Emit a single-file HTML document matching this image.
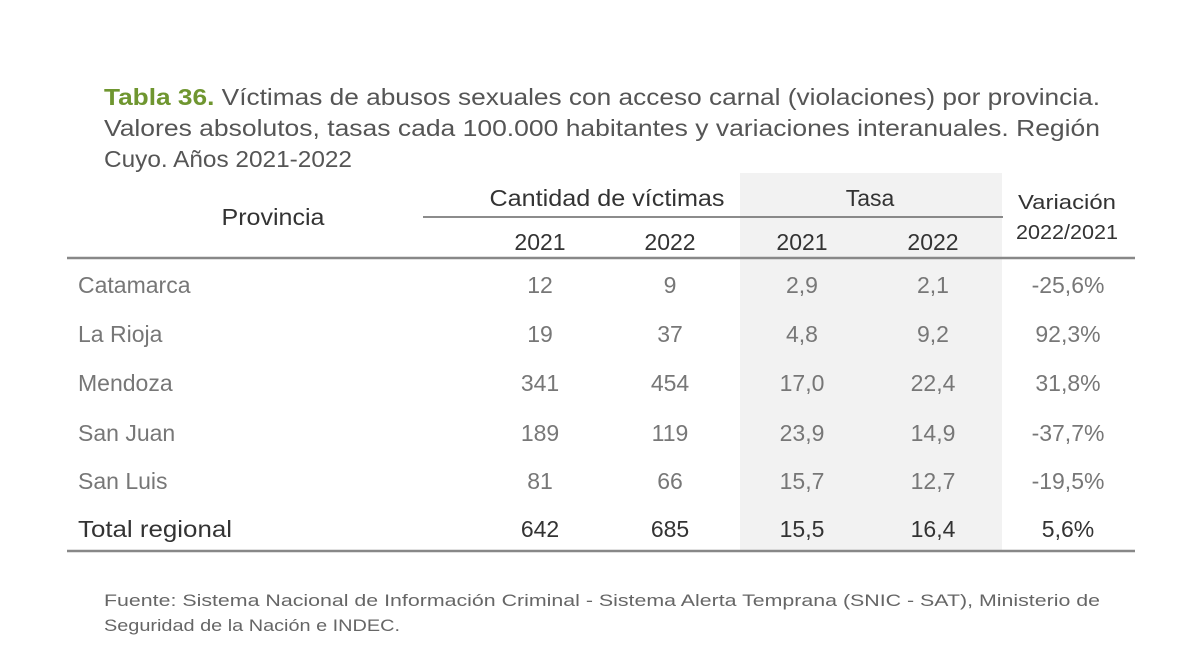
<!DOCTYPE html>
<html><head><meta charset="utf-8"><style>
html,body{margin:0;padding:0;background:#fff;}
svg{display:block;font-family:"Liberation Sans",sans-serif;}
</style></head><body>
<svg width="1200" height="653" viewBox="0 0 1200 653">
<rect x="740" y="173" width="262" height="378" fill="#f2f2f2"/>
<g font-size="23" fill="#555">
<text x="104" y="105" textLength="996" lengthAdjust="spacingAndGlyphs"><tspan fill="#6f9630" font-weight="bold">Tabla 36.</tspan> Víctimas de abusos sexuales con acceso carnal (violaciones) por provincia.</text>
<text x="104" y="136" textLength="996" lengthAdjust="spacingAndGlyphs">Valores absolutos, tasas cada 100.000 habitantes y variaciones interanuales. Región</text>
<text x="104" y="167" textLength="248" lengthAdjust="spacingAndGlyphs">Cuyo. Años 2021-2022</text>
</g>
<g font-size="23" fill="#333" text-anchor="middle">
<text x="273" y="225" textLength="103" lengthAdjust="spacingAndGlyphs">Provincia</text>
<text x="607" y="206" textLength="235" lengthAdjust="spacingAndGlyphs">Cantidad de víctimas</text>
<text x="870" y="206">Tasa</text>
<text x="1067" y="209" font-size="20" textLength="98" lengthAdjust="spacingAndGlyphs">Variación</text>
<text x="1067" y="239" font-size="20" textLength="102" lengthAdjust="spacingAndGlyphs">2022/2021</text>
<text x="540" y="250">2021</text><text x="670" y="250">2022</text>
<text x="802" y="250">2021</text><text x="933" y="250">2022</text>
</g>
<line x1="423" y1="217" x2="740" y2="217" stroke="#666" stroke-width="1.5"/>
<line x1="740" y1="217" x2="1003" y2="217" stroke="#666" stroke-width="1.5"/>
<line x1="67" y1="258" x2="1135" y2="258" stroke="#888" stroke-width="2.5"/>
<line x1="67" y1="551" x2="1135" y2="551" stroke="#888" stroke-width="2.5"/>
<g font-size="23" fill="#777">
<g text-anchor="start">
<text x="78" y="293">Catamarca</text>
<text x="78" y="342">La Rioja</text>
<text x="78" y="391">Mendoza</text>
<text x="78" y="441">San Juan</text>
<text x="78" y="489">San Luis</text>
</g>
<g text-anchor="middle">
<text x="540" y="293">12</text><text x="670" y="293">9</text><text x="802" y="293">2,9</text><text x="933" y="293">2,1</text><text x="1068" y="293">-25,6%</text>
<text x="540" y="342">19</text><text x="670" y="342">37</text><text x="802" y="342">4,8</text><text x="933" y="342">9,2</text><text x="1068" y="342">92,3%</text>
<text x="540" y="391">341</text><text x="670" y="391">454</text><text x="802" y="391">17,0</text><text x="933" y="391">22,4</text><text x="1068" y="391">31,8%</text>
<text x="540" y="441">189</text><text x="670" y="441">119</text><text x="802" y="441">23,9</text><text x="933" y="441">14,9</text><text x="1068" y="441">-37,7%</text>
<text x="540" y="489">81</text><text x="670" y="489">66</text><text x="802" y="489">15,7</text><text x="933" y="489">12,7</text><text x="1068" y="489">-19,5%</text>
</g>
</g>
<g font-size="23" fill="#333">
<text x="78" y="537" textLength="154" lengthAdjust="spacingAndGlyphs">Total regional</text>
<g text-anchor="middle">
<text x="540" y="537">642</text><text x="670" y="537">685</text><text x="802" y="537">15,5</text><text x="933" y="537">16,4</text><text x="1068" y="537">5,6%</text>
</g>
</g>
<g font-size="17" fill="#666">
<text x="104" y="606" textLength="996" lengthAdjust="spacingAndGlyphs">Fuente: Sistema Nacional de Información Criminal - Sistema Alerta Temprana (SNIC - SAT), Ministerio de</text>
<text x="104" y="631" textLength="296" lengthAdjust="spacingAndGlyphs">Seguridad de la Nación e INDEC.</text>
</g>
</svg>
</body></html>
